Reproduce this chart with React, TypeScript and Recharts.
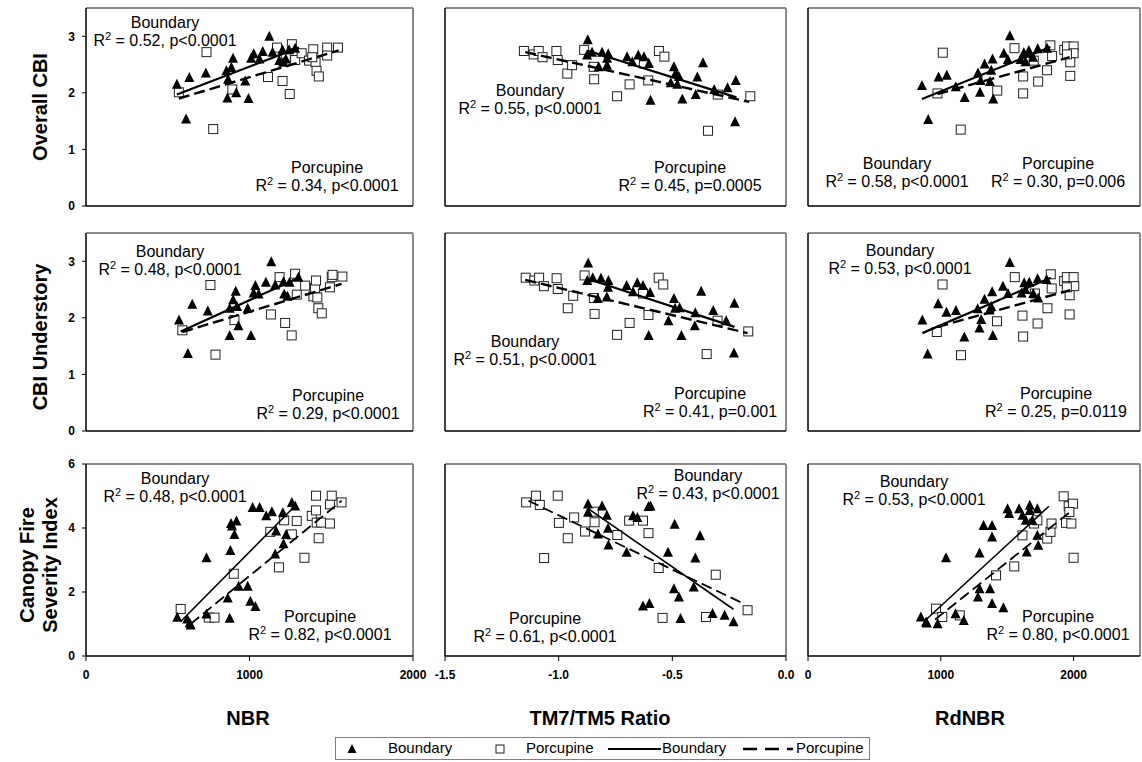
import React from 'react';
import { ComposedChart, Scatter, XAxis, YAxis, ReferenceLine } from 'recharts';

type Pt = { x: number; y: number };
const toPts = (a: number[][]): Pt[] => a.map(([x, y]) => ({ x, y }));

// ---------- column / row axes ----------
const colTitles = ['NBR', 'TM7/TM5 Ratio', 'RdNBR'];
const rowTitles = [['Overall CBI'], ['CBI Understory'], ['Canopy Fire', 'Severity Index']];
const xDomains = [[0, 2000], [-1.5, 0], [0, 2500]];
const xTicks = [[0, 1000, 2000], [-1.5, -1.0, -0.5, 0], [0, 1000, 2000]];
const yDomains = [[0, 3.5], [0, 3.5], [0, 6]];
const yTicks = [[0, 1, 2, 3], [0, 1, 2, 3], [0, 2, 4, 6]];
const legendLabels = ['Boundary', 'Porcupine', 'Boundary', 'Porcupine'];

// ---------- data: row 1 (Overall CBI) ----------
const nbrCbiBoundary = [[556,2.15],[612,1.54],[632,2.27],[733,2.35],[859,2.39],[889,2.45],[899,2.61],[869,2.24],[865,1.91],[919,2.00],[974,2.21],[994,1.90],[1010,2.61],[1026,2.69],[1081,2.73],[1121,3.00],[1141,2.72],[1182,2.57],[1202,2.76],[1206,2.54],[1242,2.76],[1279,2.79],[1222,2.60],[1061,2.60]];
const nbrCbiPorcupine = [[568,2.01],[737,2.72],[778,1.36],[895,2.06],[1113,2.28],[1168,2.80],[1202,2.21],[1246,1.98],[1259,2.86],[1279,2.58],[1319,2.70],[1364,2.57],[1390,2.77],[1404,2.54],[1410,2.39],[1424,2.29],[1475,2.80],[1475,2.66],[1541,2.80],[1222,2.63],[1384,2.63]];
const nbrCbiBoundaryFit = [[556,1.97],[1303,2.80]];
const nbrCbiPorcupineFit = [[568,1.90],[1545,2.75]];

const ratioCbiBoundary = [[-0.872,2.94],[-0.875,2.67],[-0.853,2.72],[-0.809,2.72],[-0.782,2.69],[-0.787,2.61],[-0.787,2.49],[-0.824,2.46],[-0.699,2.64],[-0.676,2.55],[-0.650,2.67],[-0.625,2.64],[-0.603,2.52],[-0.596,1.87],[-0.493,2.46],[-0.485,2.35],[-0.471,2.29],[-0.507,2.18],[-0.478,2.15],[-0.456,1.89],[-0.397,1.97],[-0.390,2.28],[-0.365,2.53],[-0.316,2.06],[-0.257,2.09],[-0.221,2.22],[-0.224,1.49]];
const ratioCbiPorcupine = [[-1.153,2.74],[-1.110,2.68],[-1.088,2.74],[-1.071,2.63],[-1.010,2.74],[-1.004,2.58],[-0.962,2.34],[-0.941,2.49],[-0.888,2.76],[-0.846,2.46],[-0.844,2.24],[-0.743,1.94],[-0.688,2.15],[-0.625,2.52],[-0.606,2.22],[-0.559,2.74],[-0.535,2.64],[-0.343,1.33],[-0.300,1.97],[-0.157,1.94]];
const ratioCbiBoundaryFit = [[-0.875,2.75],[-0.218,1.92]];
const ratioCbiPorcupineFit = [[-1.147,2.72],[-0.162,1.84]];

const rdnbrCbiBoundary = [[858,2.13],[905,1.53],[983,2.28],[1045,2.31],[1113,2.11],[1180,1.92],[1280,2.35],[1295,2.01],[1300,2.22],[1330,2.51],[1380,2.40],[1390,2.60],[1370,2.20],[1395,1.89],[1475,2.70],[1505,2.59],[1520,3.01],[1600,2.59],[1625,2.71],[1638,2.55],[1663,2.75],[1670,2.70],[1730,2.78],[1695,2.63],[1800,2.79]];
const rdnbrCbiPorcupine = [[975,1.99],[1015,2.71],[1150,1.35],[1425,2.04],[1555,2.79],[1620,2.29],[1620,1.99],[1700,2.57],[1733,2.20],[1800,2.40],[1825,2.84],[1838,2.65],[1930,2.76],[1950,2.82],[2000,2.82],[2000,2.70],[1975,2.54],[1975,2.30],[1950,2.68]];
const rdnbrCbiBoundaryFit = [[858,1.89],[1825,2.81]];
const rdnbrCbiPorcupineFit = [[975,1.98],[1970,2.63]];

// ---------- data: row 2 (CBI Understory) ----------
const nbrUndBoundary = [[569,1.96],[623,1.37],[650,2.24],[745,2.12],[879,2.17],[900,2.32],[916,2.47],[879,1.69],[932,1.86],[989,2.17],[1009,1.69],[924,2.20],[1036,2.57],[1056,2.42],[1100,2.63],[1133,2.99],[1157,2.58],[1208,2.64],[1212,2.42],[1245,2.63],[1232,2.38],[1299,2.72],[1025,2.44]];
const nbrUndPorcupine = [[589,1.78],[761,2.58],[792,1.35],[908,1.96],[1131,2.06],[1184,2.72],[1218,1.91],[1258,1.69],[1279,2.78],[1289,2.41],[1340,2.57],[1391,2.38],[1401,2.53],[1407,2.66],[1415,2.36],[1421,2.17],[1442,2.08],[1492,2.54],[1503,2.72],[1508,2.76],[1568,2.73]];
const nbrUndBoundaryFit = [[579,1.76],[1310,2.72]];
const nbrUndPorcupineFit = [[589,1.75],[1563,2.60]];

const ratioUndBoundary = [[-0.870,2.97],[-0.874,2.66],[-0.850,2.71],[-0.814,2.70],[-0.781,2.66],[-0.783,2.54],[-0.788,2.37],[-0.828,2.34],[-0.701,2.57],[-0.673,2.46],[-0.654,2.62],[-0.629,2.57],[-0.598,2.45],[-0.604,1.69],[-0.493,2.34],[-0.488,2.17],[-0.468,2.18],[-0.517,1.95],[-0.460,1.69],[-0.399,2.09],[-0.401,1.86],[-0.373,2.47],[-0.320,2.13],[-0.263,1.95],[-0.227,2.26],[-0.229,1.38]];
const ratioUndPorcupine = [[-1.145,2.71],[-1.107,2.66],[-1.086,2.71],[-1.065,2.56],[-1.009,2.70],[-1.004,2.51],[-0.960,2.17],[-0.936,2.39],[-0.886,2.75],[-0.845,2.35],[-0.842,2.07],[-0.743,1.70],[-0.688,1.91],[-0.629,2.43],[-0.605,2.05],[-0.560,2.71],[-0.540,2.59],[-0.349,1.36],[-0.301,1.95],[-0.166,1.76]];
const ratioUndBoundaryFit = [[-0.874,2.69],[-0.227,1.84]];
const ratioUndPorcupineFit = [[-1.147,2.67],[-0.169,1.73]];

const rdnbrUndBoundary = [[861,1.96],[901,1.36],[980,2.25],[1043,2.10],[1114,2.13],[1177,1.66],[1278,2.16],[1291,1.82],[1304,1.97],[1329,2.33],[1367,2.14],[1387,2.46],[1392,1.69],[1380,2.20],[1468,2.56],[1506,2.43],[1519,2.98],[1608,2.44],[1628,2.62],[1638,2.50],[1666,2.63],[1729,2.69],[1734,2.35],[1797,2.68],[1696,2.43]];
const rdnbrUndPorcupine = [[970,1.75],[1013,2.59],[1152,1.34],[1423,1.94],[1557,2.72],[1615,2.04],[1620,1.67],[1709,2.43],[1729,1.90],[1803,2.17],[1828,2.77],[1835,2.52],[1929,2.65],[1949,2.72],[2000,2.72],[2005,2.56],[1970,2.40],[1970,2.06],[1949,2.54]];
const rdnbrUndBoundaryFit = [[861,1.73],[1828,2.71]];
const rdnbrUndPorcupineFit = [[975,1.84],[1975,2.49]];

// ---------- data: row 3 (Canopy Fire Severity Index) ----------
const nbrCfsiBoundary = [[558,1.21],[619,1.16],[634,1.03],[640,0.97],[737,3.07],[737,1.31],[883,3.30],[887,4.14],[920,4.22],[908,3.80],[893,4.06],[867,1.81],[879,1.18],[934,2.18],[989,2.18],[1005,1.71],[1036,1.55],[1019,4.64],[1062,4.64],[1102,4.38],[1137,4.51],[1157,3.19],[1163,3.91],[1208,3.51],[1204,4.48],[1224,3.80],[1259,4.80],[1279,4.69]];
const nbrCfsiPorcupine = [[579,1.47],[751,1.20],[786,1.20],[904,2.57],[1127,3.88],[1180,2.77],[1212,4.24],[1259,3.80],[1289,4.22],[1336,3.07],[1381,4.38],[1407,5.01],[1407,4.55],[1411,4.17],[1423,3.68],[1438,4.17],[1492,4.14],[1492,4.74],[1503,5.01],[1563,4.80]];
const nbrCfsiBoundaryFit = [[579,1.08],[1269,4.64]];
const nbrCfsiPorcupineFit = [[640,1.0],[1563,4.85]];

const ratioCfsiBoundary = [[-0.871,4.75],[-0.871,4.49],[-0.809,4.69],[-0.788,4.40],[-0.783,3.99],[-0.827,3.81],[-0.781,3.47],[-0.701,3.24],[-0.673,4.38],[-0.654,4.33],[-0.605,4.67],[-0.596,4.69],[-0.629,1.56],[-0.601,1.64],[-0.519,3.24],[-0.490,4.12],[-0.493,2.10],[-0.471,1.84],[-0.464,1.17],[-0.406,2.16],[-0.399,3.06],[-0.378,3.76],[-0.323,1.33],[-0.270,1.27],[-0.231,1.07]];
const ratioCfsiPorcupine = [[-1.143,4.80],[-1.100,5.01],[-1.083,4.72],[-1.064,3.06],[-1.004,5.01],[-0.999,4.16],[-0.960,3.68],[-0.932,4.33],[-0.884,3.89],[-0.845,4.51],[-0.842,4.18],[-0.742,3.78],[-0.690,4.23],[-0.629,4.23],[-0.605,3.84],[-0.560,2.75],[-0.543,1.19],[-0.352,1.22],[-0.309,2.54],[-0.169,1.43]];
const ratioCfsiBoundaryFit = [[-0.867,4.59],[-0.231,1.46]];
const ratioCfsiPorcupineFit = [[-1.133,4.85],[-0.188,1.64]];

const rdnbrCfsiBoundary = [[850,1.22],[889,1.06],[894,1.03],[976,1.01],[1039,3.07],[1111,1.32],[1173,1.11],[1280,1.84],[1292,3.22],[1292,2.10],[1322,4.08],[1386,4.08],[1386,3.72],[1371,2.10],[1386,1.64],[1471,1.51],[1503,4.60],[1515,4.45],[1590,4.60],[1615,4.40],[1640,4.24],[1647,3.25],[1670,4.71],[1670,4.55],[1727,4.60],[1727,3.77],[1734,3.46],[1689,4.24]];
const rdnbrCfsiPorcupine = [[964,1.48],[1011,1.22],[1143,1.27],[1416,2.52],[1553,2.80],[1615,3.77],[1702,4.14],[1727,4.24],[1801,3.67],[1826,3.88],[1834,4.14],[1925,4.99],[1943,4.16],[1963,4.68],[1983,4.14],[1995,4.76],[2000,3.07],[1968,4.50]];
const rdnbrCfsiBoundaryFit = [[882,1.11],[1814,4.68]];
const rdnbrCfsiPorcupineFit = [[957,1.14],[1988,4.55]];

// ---------- regression statistics text ----------
const boundaryStats = [
  ['0.52', 'p<0.0001'], ['0.55', 'p<0.0001'], ['0.58', 'p<0.0001'],
  ['0.48', 'p<0.0001'], ['0.51', 'p<0.0001'], ['0.53', 'p<0.0001'],
  ['0.48', 'p<0.0001'], ['0.43', 'p<0.0001'], ['0.53', 'p<0.0001'],
];
const porcupineStats = [
  ['0.34', 'p<0.0001'], ['0.45', 'p=0.0005'], ['0.30', 'p=0.006'],
  ['0.29', 'p<0.0001'], ['0.41', 'p=0.001'], ['0.25', 'p=0.0119'],
  ['0.82', 'p<0.0001'], ['0.61', 'p<0.0001'], ['0.80', 'p<0.0001'],
];

const panelData = [
  [nbrCbiBoundary, nbrCbiPorcupine, nbrCbiBoundaryFit, nbrCbiPorcupineFit],
  [ratioCbiBoundary, ratioCbiPorcupine, ratioCbiBoundaryFit, ratioCbiPorcupineFit],
  [rdnbrCbiBoundary, rdnbrCbiPorcupine, rdnbrCbiBoundaryFit, rdnbrCbiPorcupineFit],
  [nbrUndBoundary, nbrUndPorcupine, nbrUndBoundaryFit, nbrUndPorcupineFit],
  [ratioUndBoundary, ratioUndPorcupine, ratioUndBoundaryFit, ratioUndPorcupineFit],
  [rdnbrUndBoundary, rdnbrUndPorcupine, rdnbrUndBoundaryFit, rdnbrUndPorcupineFit],
  [nbrCfsiBoundary, nbrCfsiPorcupine, nbrCfsiBoundaryFit, nbrCfsiPorcupineFit],
  [ratioCfsiBoundary, ratioCfsiPorcupine, ratioCfsiBoundaryFit, ratioCfsiPorcupineFit],
  [rdnbrCfsiBoundary, rdnbrCfsiPorcupine, rdnbrCfsiBoundaryFit, rdnbrCfsiPorcupineFit],
];

// ---------- layout ----------
const FONT = "'Liberation Sans', Arial, Helvetica, sans-serif";
const COL_BOX = [{ left: 86, right: 413 }, { left: 445, right: 786 }, { left: 808, right: 1140 }];
const ROW_BOX = [{ top: 8, bottom: 206 }, { top: 233, bottom: 431 }, { top: 464, bottom: 656 }];
// centre of the first text line of each annotation [boundary, porcupine]
const LABEL_POS = [
  [[165, 23], [327, 168]], [[530, 91], [690, 168]], [[897, 164], [1058, 164]],
  [[170, 252], [328, 396]], [[525, 342], [710, 394]], [[900, 251], [1056, 394]],
  [[175, 479], [320, 617]], [[708, 476], [545, 619]], [[914, 482], [1058, 617]],
];

const Triangle = (props: any) => {
  const { cx, cy } = props;
  if (cx == null || cy == null) return <g />;
  return <polygon points={`${cx},${cy - 5.5} ${cx - 5},${cy + 4.5} ${cx + 5},${cy + 4.5}`} fill="#000" />;
};
const Square = (props: any) => {
  const { cx, cy } = props;
  if (cx == null || cy == null) return <g />;
  return <rect x={cx - 4.5} y={cy - 4.5} width={9} height={9} fill="#fff" stroke="#222" strokeWidth={1} />;
};
const NoDot = () => <g />;

const YW = 40, MT = 12, MR = 22, XH = 30;

function Panel({ r, c }: { r: number; c: number }) {
  const idx = r * 3 + c;
  const [b, p, bf, pf] = panelData[idx];
  const col = COL_BOX[c], row = ROW_BOX[r];
  const w = col.right - col.left + YW + MR;
  const h = row.bottom - row.top + MT + XH;
  const xd = xDomains[c], yd = yDomains[r];
  const fmt = (v: number) => (c === 1 ? v.toFixed(1) : String(v));
  const tickStyle = { fontSize: 12, fontWeight: 700, fill: '#000', fontFamily: FONT };
  return (
    <div style={{ position: 'absolute', left: col.left - YW, top: row.top - MT }}>
      <ComposedChart width={w} height={h} margin={{ top: MT, right: MR, bottom: 0, left: 0 }}>
        <XAxis type="number" dataKey="x" domain={xd} ticks={xTicks[c]} interval={0} allowDataOverflow
          height={XH} tickSize={5} tickMargin={9}
          axisLine={{ stroke: '#000', strokeWidth: 1.5 }} tickLine={{ stroke: '#000' }}
          tick={r === 2 ? tickStyle : false} tickFormatter={fmt} />
        <YAxis type="number" dataKey="y" domain={yd} ticks={yTicks[r]} interval={0} allowDataOverflow
          width={YW} tickSize={4} tickMargin={7}
          axisLine={{ stroke: '#000', strokeWidth: 1.5 }} tickLine={{ stroke: '#000' }}
          tick={c === 0 ? tickStyle : false} />
        <ReferenceLine y={yd[1]} stroke="#8a8a8a" strokeWidth={2} />
        <ReferenceLine x={xd[1]} stroke="#8a8a8a" strokeWidth={2} />
        <Scatter data={toPts(p)} shape={Square} isAnimationActive={false} />
        <Scatter data={toPts(b)} shape={Triangle} isAnimationActive={false} />
        <Scatter data={toPts(bf)} shape={NoDot} line={{ stroke: '#000', strokeWidth: r === 2 ? 1.6 : 2.2 }} isAnimationActive={false} />
        <Scatter data={toPts(pf)} shape={NoDot} line={{ stroke: '#000', strokeWidth: r === 2 ? 1.8 : 2.4, strokeDasharray: '11 5' }} isAnimationActive={false} />
      </ComposedChart>
    </div>
  );
}

function StatLabel({ name, stat, x, y }: { name: string; stat: string[]; x: number; y: number }) {
  return (
    <div style={{ position: 'absolute', left: x, top: y - 9, transform: 'translateX(-50%)', textAlign: 'center',
      whiteSpace: 'nowrap', fontSize: 16, lineHeight: '18px', color: '#000', fontFamily: FONT }}>
      <div>{name}</div>
      <div>R<span style={{ fontSize: 11, position: 'relative', top: -6 }}>2</span> = {stat[0]}, {stat[1]}</div>
    </div>
  );
}

const ROW_TITLE_POS = [[40, 107], [40, 337], [39, 565]];
const COL_TITLE_POS = [[248, 718], [600, 718], [970, 718]];

export default function App() {
  return (
    <div style={{ position: 'absolute', left: 0, top: 0, width: 1142, height: 762, overflow: 'hidden', background: '#fff', fontFamily: FONT }}>
      {[0, 1, 2].map((r) => [0, 1, 2].map((c) => <Panel key={`${r}-${c}`} r={r} c={c} />))}
      {LABEL_POS.map((pos, i) => (
        <React.Fragment key={`lab${i}`}>
          <StatLabel name="Boundary" stat={boundaryStats[i]} x={pos[0][0]} y={pos[0][1]} />
          <StatLabel name="Porcupine" stat={porcupineStats[i]} x={pos[1][0]} y={pos[1][1]} />
        </React.Fragment>
      ))}
      {rowTitles.map((lines, i) => (
        <div key={`rt${i}`} style={{ position: 'absolute', left: ROW_TITLE_POS[i][0], top: ROW_TITLE_POS[i][1],
          transform: 'translate(-50%, -50%) rotate(-90deg)', whiteSpace: 'nowrap', textAlign: 'center',
          fontSize: 20, fontWeight: 700, lineHeight: '23px', color: '#000' }}>
          {lines.map((l) => <div key={l}>{l}</div>)}
        </div>
      ))}
      {colTitles.map((t, i) => (
        <div key={`ct${i}`} style={{ position: 'absolute', left: COL_TITLE_POS[i][0], top: COL_TITLE_POS[i][1],
          transform: 'translate(-50%, -50%)', whiteSpace: 'nowrap', fontSize: 20, fontWeight: 700, color: '#000' }}>{t}</div>
      ))}
      <div style={{ position: 'absolute', left: 335, top: 737, width: 535, height: 23, border: '1px solid #808080', boxSizing: 'border-box', background: '#fff', fontSize: 15, color: '#000' }}>
        <svg width={535} height={23} style={{ position: 'absolute', left: 0, top: 0 }}>
          <polygon points="16,6 11.5,15 20.5,15" fill="#000" />
          <rect x={160} y={7} width={8} height={8} fill="#fff" stroke="#222" strokeWidth={1} />
          <line x1={272} y1={11} x2={325} y2={11} stroke="#000" strokeWidth={2} />
          <line x1={407} y1={11} x2={457} y2={11} stroke="#000" strokeWidth={2.4} strokeDasharray="14 8" />
        </svg>
        <span style={{ position: 'absolute', left: 52, top: 1 }}>{legendLabels[0]}</span>
        <span style={{ position: 'absolute', left: 190, top: 1 }}>{legendLabels[1]}</span>
        <span style={{ position: 'absolute', left: 326, top: 1 }}>{legendLabels[2]}</span>
        <span style={{ position: 'absolute', left: 460, top: 1 }}>{legendLabels[3]}</span>
      </div>
    </div>
  );
}
